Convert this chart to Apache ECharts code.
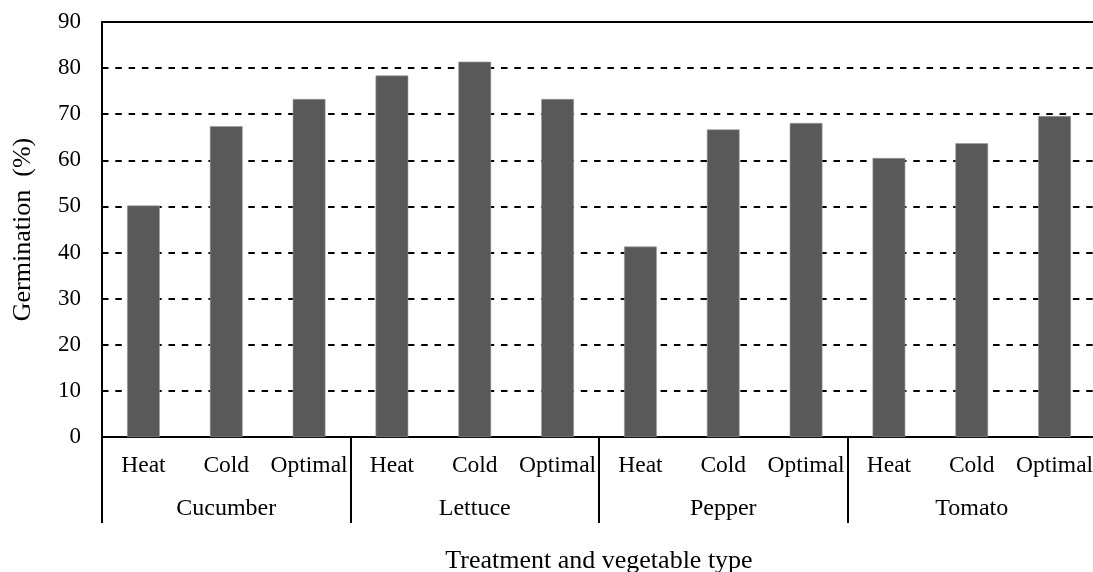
<!DOCTYPE html>
<html>
<head>
<meta charset="utf-8">
<script src="https://cdn.jsdelivr.net/npm/echarts@6/dist/echarts.min.js"></script>
<style>
html,body{margin:0;padding:0;background:#fff;}
#chart{width:1093px;height:572px;}
</style>
</head>
<body>
<div id="chart"></div>
<script>
const treatments = ['Heat','Cold','Optimal','Heat','Cold','Optimal','Heat','Cold','Optimal','Heat','Cold','Optimal'];
const vegetables = ['Cucumber','Lettuce','Pepper','Tomato'];
const germination = [50.2, 67.4, 73.3, 78.4, 81.4, 73.3, 41.3, 66.7, 68.1, 60.5, 63.7, 69.6];
const yTicks = [0,10,20,30,40,50,60,70,80,90];

const FONT = '"Liberation Serif", "Times New Roman", serif';
const chart = echarts.init(document.getElementById('chart'), null, {renderer:'canvas'});
chart.setOption({
  animation:false,
  backgroundColor:'#fff',
  grid:{left:102, right:-3, top:22, height:415, containLabel:false, outerBoundsMode:'none'},
  xAxis:[
    {
      type:'category', data:treatments, position:'bottom', gridIndex:0,
      axisLine:{show:true, lineStyle:{color:'#000', width:2}},
      axisTick:{show:false},
      axisLabel:{color:'#000', fontFamily:FONT, fontSize:23.5, margin:17, interval:0},
      splitLine:{show:false},
      name:'Treatment and vegetable type', nameLocation:'middle', nameGap:111,
      nameTextStyle:{color:'#000', fontFamily:FONT, fontSize:26}
    },
    {
      type:'category', data:vegetables, position:'bottom', gridIndex:0,
      axisLine:{show:false},
      axisTick:{show:true, length:86, lineStyle:{color:'#000', width:2}},
      axisLabel:{color:'#000', fontFamily:FONT, fontSize:24, margin:60, interval:0},
      splitLine:{show:false}
    },
    {
      type:'category', data:treatments, position:'top', gridIndex:0,
      axisLine:{show:true, lineStyle:{color:'#000', width:2}},
      axisTick:{show:false}, axisLabel:{show:false}, splitLine:{show:false}
    }
  ],
  yAxis:{
    type:'value', min:yTicks[0], max:yTicks[yTicks.length-1], interval:10,
    axisLine:{show:true, lineStyle:{color:'#000', width:2}},
    axisTick:{show:false},
    axisLabel:{color:'#000', fontFamily:FONT, fontSize:23, margin:21},
    splitLine:{show:true, lineStyle:{color:'#000', width:2, type:[6.5,6.8]}},
    name:'Germination\u2002(%)', nameLocation:'middle', nameGap:66, nameRotate:90,
    nameTextStyle:{color:'#000', fontFamily:FONT, fontSize:26}
  },
  series:[{
    type:'bar', xAxisIndex:0, yAxisIndex:0, data:germination,
    barWidth:'39.5%',
    itemStyle:{color:'#595959', borderColor:'#9a9a9a', borderWidth:0.6}
  }]
});
</script>
</body>
</html>
